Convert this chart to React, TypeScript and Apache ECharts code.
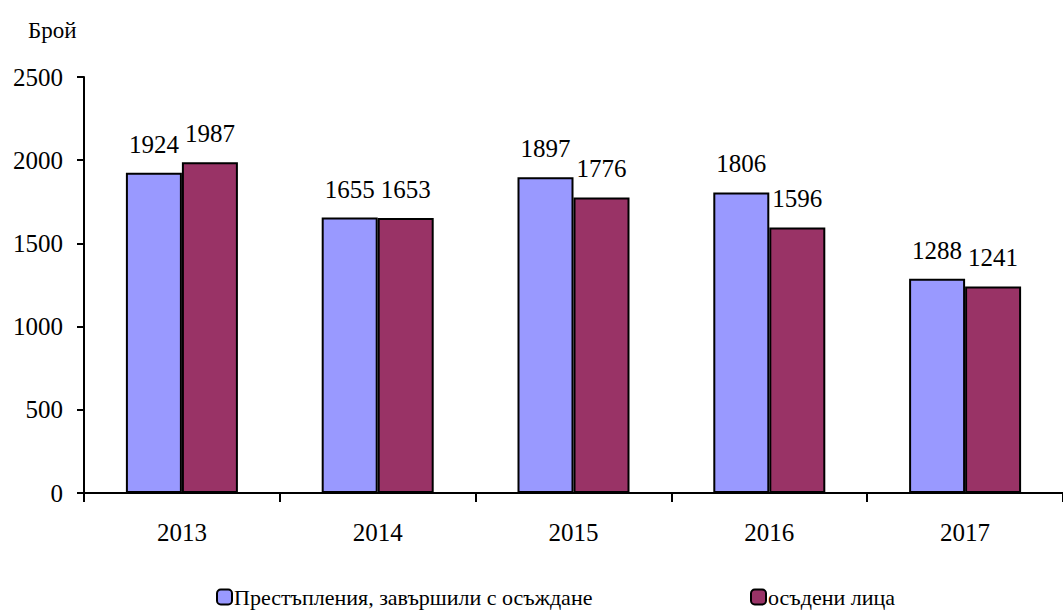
import React, { useEffect, useRef } from "react";
import * as echarts from "echarts";

const categories = ["2013", "2014", "2015", "2016", "2017"];
const seriesNames = ["Престъпления, завършили с осъждане", "осъдени лица"];
const crimes = [1924, 1655, 1897, 1806, 1288];
const convicted = [1987, 1653, 1776, 1596, 1241];
const yTicks = [0, 500, 1000, 1500, 2000, 2500];
const yUnit = "Брой";

const FONT = "Liberation Serif";
const FS = 25;

export default function App() {
  const ref = useRef<HTMLDivElement>(null);
  useEffect(() => {
    if (!ref.current) return;
    const chart = echarts.init(ref.current, undefined, { renderer: "svg" });
    const labelCfg = {
      show: true,
      position: "top",
      distance: 16,
      color: "#000",
      fontFamily: FONT,
      fontSize: FS,
    };
    const legendText = { fontFamily: FONT, fontSize: 22, color: "#000", padding: [0, 0, 0, -3] };
    chart.setOption({
      animation: false,
      backgroundColor: "#fff",
      textStyle: { fontFamily: FONT },
      graphic: [
        {
          type: "text",
          left: 28,
          top: 19,
          style: { text: yUnit, fontFamily: FONT, fontSize: 23, fill: "#000" },
        },
      ],
      legend: [
        {
          data: [seriesNames[0]],
          left: 216,
          top: 586,
          padding: 0,
          itemWidth: 15,
          itemHeight: 15,
          textStyle: legendText,
        },
        {
          data: [seriesNames[1]],
          left: 750,
          top: 586,
          padding: 0,
          itemWidth: 15,
          itemHeight: 15,
          textStyle: legendText,
        },
      ],
      grid: { left: 84, top: 77, width: 986, bottom: 119, containLabel: false },
      xAxis: {
        type: "category",
        data: categories,
        axisLine: { lineStyle: { color: "#000", width: 2 } },
        axisTick: { show: true, length: 9, inside: false, lineStyle: { color: "#000", width: 2 } },
        axisLabel: { color: "#000", fontFamily: FONT, fontSize: FS, margin: 27 },
      },
      yAxis: {
        type: "value",
        min: yTicks[0],
        max: yTicks[yTicks.length - 1],
        interval: 500,
        splitLine: { show: false },
        axisLine: { show: true, lineStyle: { color: "#000", width: 2 } },
        axisTick: { show: true, length: 7, lineStyle: { color: "#000", width: 2 } },
        axisLabel: {
          color: "#000",
          fontFamily: FONT,
          fontSize: FS,
          margin: 21,
          formatter: (v: number) => String(v),
        },
      },
      series: [
        {
          name: seriesNames[0],
          type: "bar",
          data: crimes,
          barWidth: 56,
          barGap: "0%",
          itemStyle: { color: "#9999FF", borderColor: "#000", borderWidth: 2 },
          label: labelCfg,
        },
        {
          name: seriesNames[1],
          type: "bar",
          data: convicted,
          barWidth: 56,
          barGap: "0%",
          itemStyle: { color: "#993366", borderColor: "#000", borderWidth: 2 },
          label: labelCfg,
        },
      ],
    });
    return () => chart.dispose();
  }, []);
  return (
    <div
      ref={ref}
      style={{ position: "absolute", left: 0, top: 0, width: 1063, height: 612 }}
    />
  );
}
